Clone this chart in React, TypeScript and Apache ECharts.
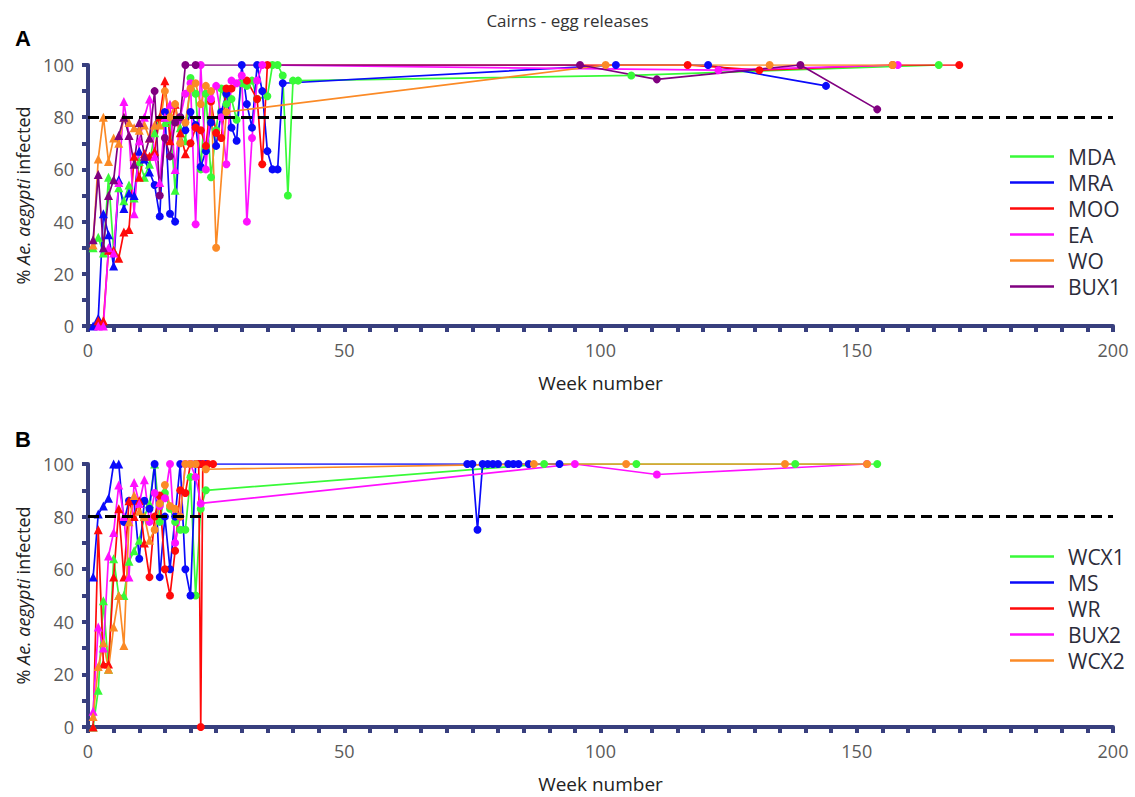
import React, { useEffect, useRef } from 'react';
import * as echarts from 'echarts';

const TITLE = 'Cairns - egg releases';
const X_NAME = 'Week number';
const Y_NAME = '% {i|Ae. aegypti} infected';

// ---- Panel A (week, % infected) ----
const MDA = [[1,30],[2,34],[3,28],[4,57],[5,29],[6,53],[7,48],[8,54],[9,49],[10,63],[11,57],[12,62],[13,74],[14,80],[15,78],[16,79],[17,52],[18,76],[19,71],[20,95],[21,89],[22,60],[23,89],[24,57],[25,75],[26,91],[27,85],[28,87],[29,79],[30,93],[31,92],[32,94],[33,87],[35,88],[36,100],[37,100],[38,96],[39,50],[40,94],[41,94],[106,96],[166,100]];
const MRA = [[1,0],[2,3],[3,43],[4,35],[5,23],[6,56],[7,45],[8,51],[9,50],[10,67],[11,64],[12,59],[13,54],[14,42],[15,82],[16,43],[17,40],[18,80],[19,75],[20,82],[21,77],[22,61],[23,67],[24,78],[25,69],[26,82],[27,89],[28,76],[29,71],[30,100],[31,85],[32,76],[33,100],[34,90],[35,67],[36,60],[37,60],[38,93],[103,100],[121,100],[144,92]];
const MOO = [[2,2],[3,2],[4,29],[5,29],[6,26],[7,36],[8,37],[9,65],[10,57],[11,66],[12,65],[13,67],[14,80],[15,94],[16,71],[17,85],[18,74],[19,66],[20,70],[21,76],[22,75],[23,69],[24,86],[25,74],[26,72],[27,91],[28,91],[31,94],[33,87],[34,62],[35,100],[117,100],[131,98],[157,100],[170,100]];
const EA = [[2,0],[3,0],[4,30],[5,28],[6,55],[7,86],[8,73],[9,43],[10,71],[11,80],[12,87],[13,65],[14,55],[15,80],[16,85],[17,60],[18,80],[19,89],[20,93],[21,39],[22,100],[23,60],[24,87],[25,92],[26,80],[27,62],[28,94],[29,93],[30,96],[31,40],[32,72],[33,94],[34,100],[123,98],[158,100]];
const WO = [[1,31],[2,64],[3,80],[4,63],[5,72],[6,70],[7,80],[8,78],[9,76],[10,75],[11,77],[12,72],[13,77],[14,77],[15,90],[16,80],[17,85],[18,70],[19,78],[20,91],[21,93],[22,85],[23,92],[24,90],[25,30],[27,82],[101,100],[133,100],[157,100]];
const BUX1 = [[1,33],[2,58],[3,30],[4,50],[5,56],[6,73],[7,80],[8,73],[9,62],[10,78],[11,65],[12,72],[13,90],[14,50],[15,72],[16,65],[17,78],[18,80],[19,100],[21,100],[96,100],[111,94.5],[139,100],[154,83]];

// ---- Panel B ----
const WCX1 = [[1,0],[2,14],[3,48],[4,22],[5,64],[6,50],[7,50],[8,63],[9,67],[10,71],[11,80],[12,85],[13,100],[14,78],[15,89],[16,83],[17,78],[18,75],[19,75],[20,95],[21,50],[22,83],[23,90],[89,100],[107,100],[138,100],[154,100]];
const MS = [[1,57],[2,81],[3,84],[4,87],[5,100],[6,100],[7,78],[8,86],[9,86],[10,64],[11,86],[12,83],[13,100],[14,57],[15,80],[16,60],[17,80],[18,100],[19,60],[20,50],[21,100],[22,100],[23,100],[74,100],[75,100],[76,75],[77,100],[78,100],[79,100],[80,100],[82,100],[83,100],[84,100],[86,100],[92,100]];
const WR = [[1,0],[2,75],[3,24],[4,24],[5,57],[6,83],[7,57],[8,86],[9,80],[10,86],[11,70],[12,57],[13,80],[14,88],[15,60],[16,50],[17,67],[18,90],[19,89],[20,100],[21.6,100],[22,0],[22.4,100],[23.4,100],[24.4,100]];
const BUX2 = [[1,6],[2,38],[3,30],[4,65],[5,74],[6,92],[7,80],[8,57],[9,93],[10,85],[11,94],[12,78],[13,89],[14,84],[15,87],[16,100],[17,70],[18,80],[19,100],[20,100],[21,95],[22,85],[95,100],[111,96],[152,100]];
const WCX2 = [[1,4],[2,23],[3,32],[4,22],[5,38],[6,50],[7,31],[8,78],[9,88],[10,82],[11,80],[12,71],[13,75],[14,85],[15,92],[16,84],[17,83],[18,80],[19,100],[20,100],[21,100],[23,98],[87,100],[105,100],[136,100],[152,100]];

const THRESHOLD = 80;

const TOP_NAMES = ['MDA', 'MRA', 'MOO', 'EA', 'WO', 'BUX1'];
const TOP_DATA = [MDA, MRA, MOO, EA, WO, BUX1];
const TOP_TRI = [19, 12, 19, 18, 14, 12];
const BOT_NAMES = ['WCX1', 'MS', 'WR', 'BUX2', 'WCX2'];
const BOT_DATA = [WCX1, MS, WR, BUX2, WCX2];
const BOT_TRI = [13, 6, 11, 11, 12];

const GREEN = '#38fa38';
const BLUE = '#0a0afa';
const RED = '#ff0a0a';
const MAGENTA = '#ff10ff';
const ORANGE = '#fb8a26';
const PURPLE = '#800080';
const TOP_COLORS = [GREEN, BLUE, RED, MAGENTA, ORANGE, PURPLE];
const BOT_COLORS = [GREEN, BLUE, RED, MAGENTA, ORANGE];

const AX = '#383f7e';
const FONT = '"Open Sans", "Noto Sans", sans-serif';

function makeSeries(name: string, data: number[][], color: string, tri: number, idx: number, withLine: boolean) {
  const s: any = {
    type: 'line',
    name,
    xAxisIndex: idx,
    yAxisIndex: idx,
    showSymbol: true,
    symbol: 'circle',
    data: data.map(([w, v]) => ({
      value: [w, v],
      symbol: w <= tri ? 'triangle' : 'circle',
      symbolSize: w <= tri ? 9 : 8,
    })),
    lineStyle: { color, width: 1.7 },
    itemStyle: { color },
    emphasis: { disabled: true },
  };
  if (withLine) {
    s.markLine = {
      silent: true,
      symbol: 'none',
      label: { show: false },
      lineStyle: { color: '#000', width: 3.2, type: [11, 6] },
      data: [{ yAxis: THRESHOLD }],
    };
  }
  return s;
}

function xAxis(idx: number) {
  return {
    type: 'value',
    gridIndex: idx,
    min: 0,
    max: 200,
    interval: 50,
    name: X_NAME,
    nameLocation: 'middle',
    nameGap: 47,
    nameTextStyle: { fontSize: 19, color: '#222', fontFamily: FONT },
    axisLine: { show: true, lineStyle: { color: AX, width: 4 } },
    axisTick: { show: true, length: 6, lineStyle: { color: AX, width: 4 } },
    minorTick: { show: true, splitNumber: 10, length: 6, lineStyle: { color: AX, width: 4 } },
    splitLine: { show: false },
    axisLabel: { fontSize: 18, color: '#5a5a5a', margin: 15, fontFamily: FONT },
  };
}

function yAxis(idx: number) {
  return {
    type: 'value',
    gridIndex: idx,
    min: 0,
    max: 100,
    interval: 20,
    name: Y_NAME,
    nameLocation: 'middle',
    nameGap: 56,
    nameRotate: 90,
    nameTextStyle: {
      fontSize: 18, color: '#222', fontFamily: FONT,
      rich: { i: { fontSize: 18, color: '#222', fontStyle: 'italic', fontFamily: FONT } },
    },
    axisLine: { show: true, lineStyle: { color: AX, width: 4 } },
    axisTick: { show: true, length: 6, lineStyle: { color: AX, width: 4 } },
    minorTick: { show: true, splitNumber: 2, length: 6, lineStyle: { color: AX, width: 4 } },
    splitLine: { show: false },
    axisLabel: { fontSize: 18, color: '#5a5a5a', margin: 14, fontFamily: FONT },
  };
}

function legend(names: string[], top: number) {
  return {
    data: names,
    orient: 'vertical',
    left: 1005,
    top,
    icon: 'rect',
    itemWidth: 44,
    itemHeight: 2.5,
    itemGap: 5,
    selectedMode: false,
    textStyle: { fontSize: 21, color: '#2c2c3a', fontFamily: FONT, padding: [0, 0, 0, 9] },
  };
}

export default function App() {
  const ref = useRef<HTMLDivElement>(null);
  useEffect(() => {
    document.body.style.margin = '0';
    const chart = echarts.init(ref.current!, null, { renderer: 'svg' });
    const series: any[] = [];
    TOP_NAMES.forEach((n, i) => series.push(makeSeries(n, TOP_DATA[i], TOP_COLORS[i], TOP_TRI[i], 0, i === 0)));
    BOT_NAMES.forEach((n, i) => series.push(makeSeries(n, BOT_DATA[i], BOT_COLORS[i], BOT_TRI[i], 1, i === 0)));
    chart.setOption({
      animation: false,
      backgroundColor: '#fff',
      title: [
        { text: TITLE, left: 'center', top: 7, textStyle: { fontSize: 17, fontWeight: 'normal', color: '#333', fontFamily: FONT } },
        { text: 'A', left: 10, top: 22, textStyle: { fontSize: 22, fontWeight: 'bold', color: '#000', fontFamily: 'Liberation Sans, Arial, sans-serif' } },
        { text: 'B', left: 10, top: 423, textStyle: { fontSize: 22, fontWeight: 'bold', color: '#000', fontFamily: 'Liberation Sans, Arial, sans-serif' } },
      ],
      grid: [
        { left: 88, right: 22, top: 65, height: 261 },
        { left: 88, right: 22, top: 464, height: 263 },
      ],
      xAxis: [xAxis(0), xAxis(1)],
      yAxis: [yAxis(0), yAxis(1)],
      legend: [legend(TOP_NAMES, 141), legend(BOT_NAMES, 541)],
      series,
    });
    return () => chart.dispose();
  }, []);
  return <div ref={ref} style={{ position: 'absolute', left: 0, top: 0, width: 1135, height: 797 }} />;
}
